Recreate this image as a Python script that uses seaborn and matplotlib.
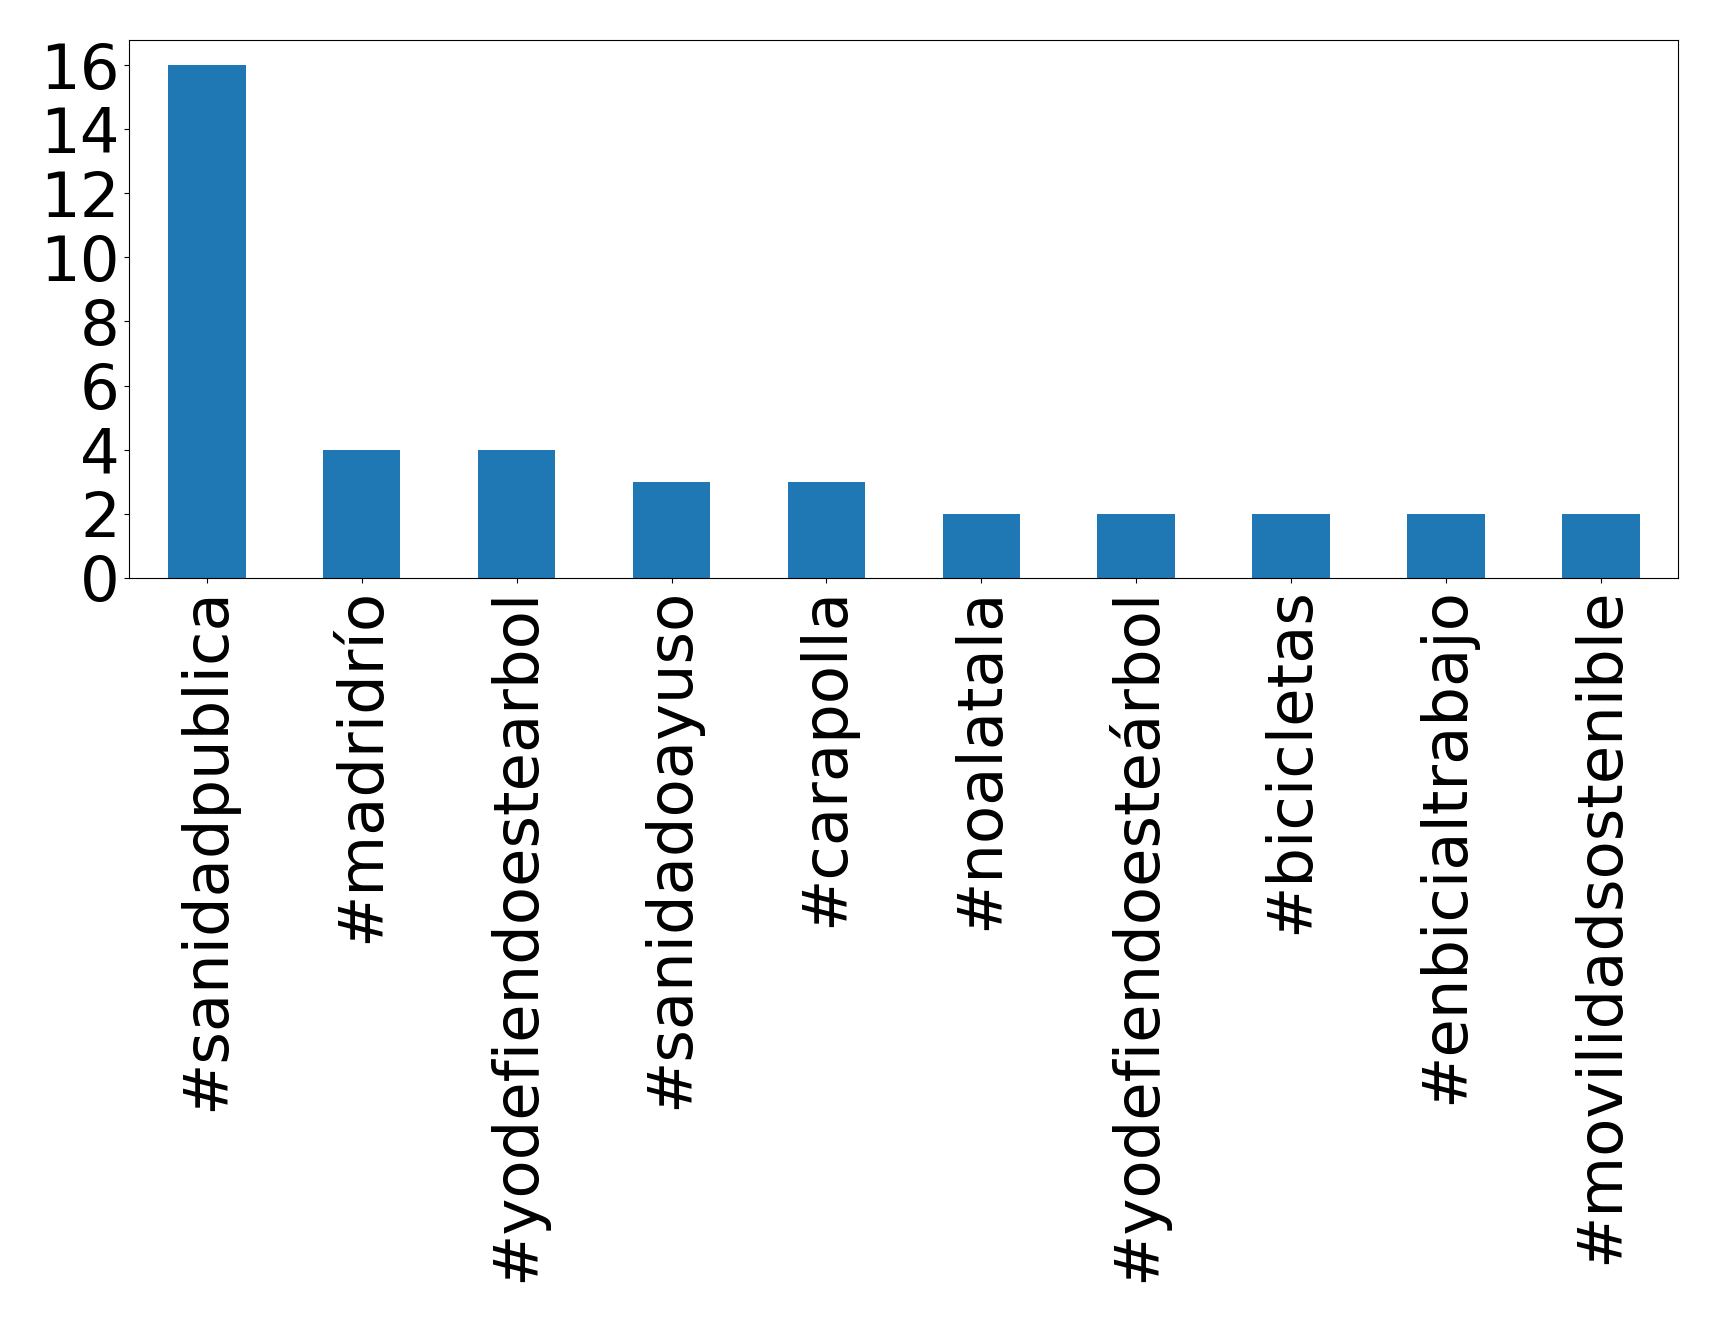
import pandas as pd
import matplotlib
matplotlib.use("Agg")
import matplotlib.pyplot as plt
import seaborn as sns

hashtags = ['#sanidadpublica', '#madridrío', '#yodefiendoestearbol', '#sanidadoayuso',
            '#carapolla', '#noalatala', '#yodefiendoesteárbol', '#bicicletas',
            '#enbicialtrabajo', '#movilidadsostenible']
counts = [16, 4, 4, 3, 3, 2, 2, 2, 2, 2]

df = pd.DataFrame({'hashtag': hashtags, 'count': counts})

fig = plt.figure(figsize=(17.19, 13.22), dpi=100)
ax = fig.add_axes([0.0753, 0.563, 0.901, 0.407])
sns.barplot(data=df, x='hashtag', y='count', color='#1f77b4', saturation=1,
            width=0.5, ax=ax)
ax.set_xlim(-0.5, 9.5)
ax.set_ylim(0, 16.8)
ax.set_yticks(range(0, 17, 2))
ax.set_xlabel('')
ax.set_ylabel('')
ax.tick_params(axis='both', labelsize=45)
ax.tick_params(axis='x', labelrotation=90)
fig.savefig('out.png', dpi=100)
